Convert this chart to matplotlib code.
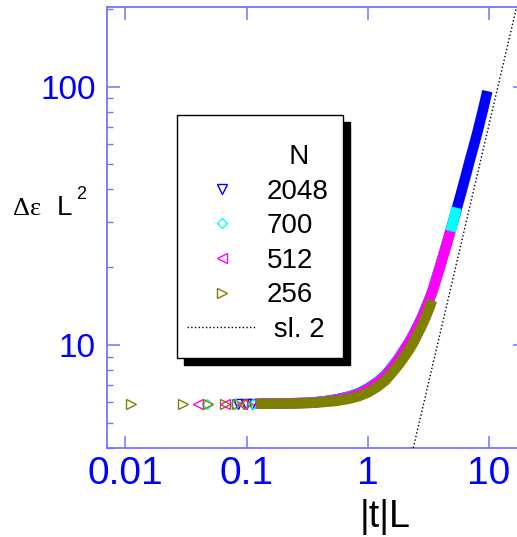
import matplotlib
matplotlib.use("Agg")
import matplotlib.pyplot as plt
import numpy as np
from matplotlib.lines import Line2D
from matplotlib.patches import Rectangle

# ── Data ──────────────────────────────────────────────────
sizes = ["2048", "700", "512", "256"]

x_2048 = [0.085, 0.098, 0.111, 0.124, 0.15, 0.2, 0.27, 0.35, 0.45, 0.55, 0.7, 0.85,
          1.0, 1.2, 1.4, 1.6, 1.8, 2.0, 2.2, 2.4, 2.6, 2.8, 3.0, 3.2, 3.4, 3.7,
          4.0, 4.3, 4.6, 5.0, 5.35, 6.0, 6.5, 7.0, 7.5, 8.0, 8.5, 9.0, 9.7]
y_2048 = [5.93, 5.93, 5.93, 5.93, 5.94, 5.95, 5.97, 6.0, 6.08, 6.17, 6.33, 6.53,
          6.8, 7.2, 7.66, 8.27, 8.9, 9.62, 10.3, 11.1, 11.95, 12.85, 13.9, 14.95, 16.1, 18.3,
          20.6, 23.1, 25.7, 29.4, 32.9, 40.0, 46.0, 52.5, 59.0, 66.0, 74.0, 82.5, 96.0]

x_700 = [0.0467, 0.0796, 0.112, 0.15, 0.2, 0.27, 0.35, 0.45, 0.55, 0.7, 0.85,
         1.0, 1.2, 1.4, 1.6, 1.8, 2.0, 2.2, 2.4, 2.6, 2.8, 3.0, 3.2, 3.4, 3.7,
         4.0, 4.3, 4.6, 5.0, 5.4]
y_700 = [5.93, 5.93, 5.93, 5.94, 5.95, 5.97, 5.99, 6.07, 6.15, 6.31, 6.5,
         6.77, 7.17, 7.62, 8.23, 8.86, 9.58, 10.26, 11.06, 11.9, 12.82, 13.85, 14.9, 16.05, 18.25,
         20.55, 23.05, 25.65, 29.3, 34.0]

x_512 = [0.040, 0.066, 0.092, 0.118, 0.15, 0.2, 0.27, 0.35, 0.45, 0.55, 0.7, 0.85,
         1.0, 1.2, 1.4, 1.6, 1.8, 2.0, 2.2, 2.4, 2.6, 2.8, 3.0, 3.2, 3.4, 3.7,
         4.0, 4.3, 4.6, 4.8]
y_512 = [5.93, 5.93, 5.93, 5.93, 5.94, 5.95, 5.97, 5.98, 6.06, 6.14, 6.29, 6.48,
         6.75, 7.14, 7.59, 8.2, 8.82, 9.54, 10.22, 11.02, 11.88, 12.79, 13.82, 14.86, 16.02, 18.2,
         20.5, 23.0, 25.6, 27.6]

x_256 = [0.0112, 0.0296, 0.0477, 0.066, 0.084, 0.102, 0.12, 0.15, 0.2, 0.27, 0.35,
         0.45, 0.55, 0.7, 0.85, 1.0, 1.2, 1.4, 1.6, 1.8, 2.0, 2.2, 2.4, 2.6, 2.8,
         3.0, 3.2, 3.4]
y_256 = [5.93, 5.93, 5.93, 5.93, 5.93, 5.93, 5.93, 5.93, 5.94, 5.95, 5.98,
         6.03, 6.08, 6.2, 6.35, 6.55, 6.9, 7.3, 7.85, 8.4, 9.0, 9.6, 10.3, 11.1, 11.9,
         12.8, 13.8, 14.9]

# slope-2 guide line: y = A * x^2
sl2_prefactor = 0.71
sl2_x = [2.3, 17.2]

# ── Style ─────────────────────────────────────────────────
W, H = 517, 537
SPINE = "#7373ff"
series = [
    (x_2048, y_2048, "2048", "v", "#0000ff", 7, 7.5),
    (x_700, y_700, "700", "D", "#00ffff", 5, 7.5),
    (x_512, y_512, "512", "<", "#ff00ff", 7, 7.5),
    (x_256, y_256, "256", ">", "#808000", 7, 7.5),
]
BAND_START = 0.115  # beyond this the markers pile into a continuous band

plt.rcParams["font.family"] = ["Liberation Sans", "DejaVu Sans"]


def fx(px):
    return px / W


def fy(py):
    return 1 - py / H


fig = plt.figure(figsize=(W / 100, H / 100), dpi=100)
ax = fig.add_axes([fx(106.7), fy(448), (525.4 - 106.7) / W, (448 - 7) / H])
ax.set_xscale("log")
ax.set_yscale("log")

for xs, ys, lab, mk, col, ms, bw in series:
    xs = np.asarray(xs)
    ys = np.asarray(ys)
    band = xs >= BAND_START
    ax.plot(xs[band], ys[band], "-", color=col, lw=bw, solid_capstyle="butt",
            solid_joinstyle="round", zorder=2)
    ax.plot(xs[~band], ys[~band], ls="none", marker=mk, ms=ms, mfc="none",
            mec=col, mew=1.0, zorder=2)

sx = np.asarray(sl2_x)
ax.plot(sx, sl2_prefactor * sx ** 2, ":", color="black", lw=1.0, zorder=3)

ax.set_xlim(0.007, 20)
ax.set_ylim(4.0, 203)
ax.set_xticks([0.01, 0.1, 1, 10], ["0.01", "0.1", "1", "10"])
ax.set_yticks([10, 100], ["10", "100"])
for side in ax.spines.values():
    side.set_color(SPINE)
    side.set_linewidth(1.3)
ax.tick_params(which="both", direction="in", top=True, right=True,
               color=SPINE, labelcolor="#0000ff")
ax.tick_params(which="major", length=9, width=1.1, pad=8)
ax.tick_params(which="minor", length=4.5, width=1.0)
ax.tick_params(axis="x", labelsize=28, pad=6)
ax.tick_params(axis="y", labelsize=24)

# axis labels
fig.text(fx(385), fy(517), "|t|L", ha="center", va="center", fontsize=27)
fig.text(fx(13), fy(215), "Δε", family=["Liberation Serif", "DejaVu Serif"],
         fontsize=19, ha="left", va="baseline")
fig.text(fx(57), fy(215), "L", fontsize=20, ha="left", va="baseline")
fig.text(fx(76), fy(199), "2", fontsize=13, ha="left", va="baseline")

# legend: frame with hard black shadow, then entries
box_l, box_t, box_r, box_b = 177, 115, 343, 358
shadow = Rectangle((fx(box_l + 7), fy(box_b + 7)), (box_r - box_l) / W,
                   (box_b - box_t) / H, transform=fig.transFigure,
                   facecolor="black", edgecolor="black", clip_on=False, zorder=4.8)
frame = Rectangle((fx(box_l), fy(box_b)), (box_r - box_l) / W,
                  (box_b - box_t) / H, transform=fig.transFigure,
                  facecolor="white", edgecolor="black", lw=1.0, clip_on=False,
                  zorder=4.9)
ax.add_patch(shadow)
ax.add_patch(frame)

handles = [Line2D([], [], ls="none")]
labels = ["   N"]
for xs, ys, lab, mk, col, ms, bw in series:
    handles.append(Line2D([], [], ls="none", marker=mk, ms=ms, mfc="none",
                          mec=col, mew=1.0))
    labels.append(lab)
handles.append(Line2D([], [], ls=":", color="black", lw=1.0))
labels.append(" sl. 2")

leg = ax.legend(handles, labels, loc="upper left",
                bbox_to_anchor=(fx(187), fy(144)), bbox_transform=fig.transFigure,
                frameon=False, fontsize=20, handlelength=2.5, handletextpad=0.36,
                labelspacing=0.31, borderpad=0, borderaxespad=0)
leg.set_zorder(5)

fig.savefig("out.png", dpi=100)
